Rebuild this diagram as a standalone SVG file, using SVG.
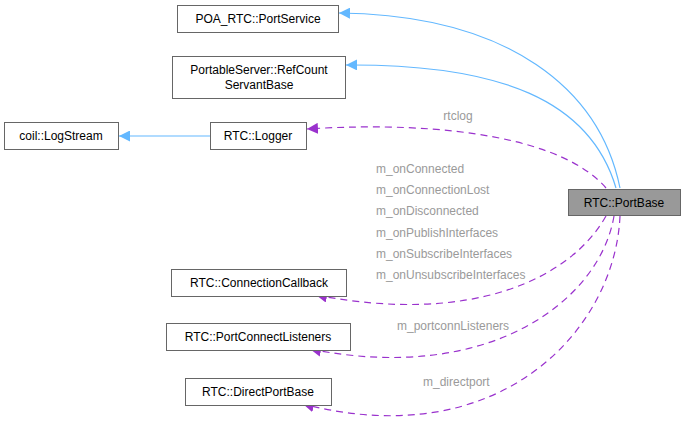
<svg xmlns="http://www.w3.org/2000/svg" width="684" height="431" viewBox="0 0 684 431">
<style>
.n rect{fill:#fff;stroke:#666;stroke-width:1}
text{font-family:"Liberation Sans",Arial,sans-serif;font-size:12px}
.n text{fill:#000;text-anchor:middle}
.l{fill:#9a9a9a}
.b{fill:none;stroke:#63b8ff;stroke-width:1.2}
.d{fill:none;stroke:#9a32cd;stroke-width:1.2;stroke-dasharray:7,5}
</style>
<defs>
<marker id="ab" viewBox="0 0 10 10" refX="10" refY="5" markerWidth="11" markerHeight="11" markerUnits="userSpaceOnUse" orient="auto"><path d="M0,0L10,5L0,10z" fill="#63b8ff"/></marker>
<marker id="ap" viewBox="0 0 10 10" refX="10" refY="5" markerWidth="11" markerHeight="11" markerUnits="userSpaceOnUse" orient="auto"><path d="M0,0L10,5L0,10z" fill="#9a32cd"/></marker>
</defs>
<rect width="684" height="431" fill="#fff"/>
<g id="edges">
<path class="b" d="M620,188 C600,90 510,15 339,13" marker-end="url(#ab)"/>
<path class="b" d="M616,188 C590,100 500,64 346,65" marker-end="url(#ab)"/>
<path class="b" d="M210,136 L119,136" marker-end="url(#ab)"/>
<path class="d" d="M606,188 C565,140 450,120 307,129" marker-end="url(#ap)"/>
<path class="d" d="M606,216 C570,280 470,325 316,295" marker-end="url(#ap)"/>
<path class="d" d="M614,216 C600,300 490,385 310,349" marker-end="url(#ap)"/>
<path class="d" d="M620,216 C615,330 500,455 303,404" marker-end="url(#ap)"/>
<text class="l" x="458" y="120" text-anchor="middle">rtclog</text>
<text class="l" x="376" y="173">m_onConnected</text>
<text class="l" x="376" y="194">m_onConnectionLost</text>
<text class="l" x="376" y="215">m_onDisconnected</text>
<text class="l" x="376" y="237">m_onPublishInterfaces</text>
<text class="l" x="376" y="258">m_onSubscribeInterfaces</text>
<text class="l" x="376" y="279">m_onUnsubscribeInterfaces</text>
<text class="l" x="397" y="330">m_portconnListeners</text>
<text class="l" x="423" y="386">m_directport</text>
</g>
<g id="poa" class="n"><rect x="177.5" y="5.5" width="161" height="27"/><text x="258" y="23">POA_RTC::PortService</text></g>
<g id="ps" class="n"><rect x="172.5" y="56.5" width="173" height="42"/><text x="259" y="74">PortableServer::RefCount</text><text x="259" y="89">ServantBase</text></g>
<g id="logstream" class="n"><rect x="4.5" y="122.5" width="114" height="27"/><text x="61" y="140">coil::LogStream</text></g>
<g id="logger" class="n"><rect x="210.5" y="122.5" width="96" height="27"/><text x="258" y="140">RTC::Logger</text></g>
<g id="portbase" class="n"><rect x="568.5" y="189.5" width="112" height="26" style="fill:#999"/><text x="624" y="207">RTC::PortBase</text></g>
<g id="cc" class="n"><rect x="171.5" y="269.5" width="175" height="27"/><text x="259" y="287">RTC::ConnectionCallback</text></g>
<g id="pcl" class="n"><rect x="166.5" y="323.5" width="184" height="27"/><text x="258" y="341">RTC::PortConnectListeners</text></g>
<g id="dpb" class="n"><rect x="185.5" y="378.5" width="146" height="27"/><text x="258" y="396">RTC::DirectPortBase</text></g>
</svg>
